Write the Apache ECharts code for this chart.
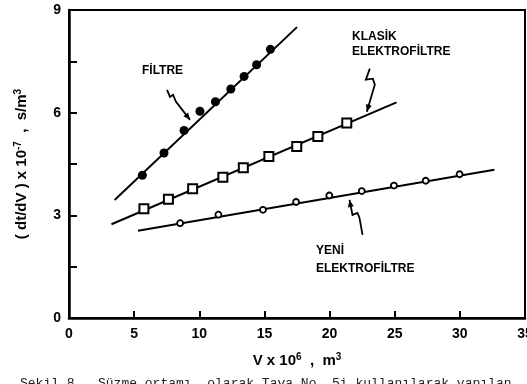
<!DOCTYPE html>
<html>
<head>
<meta charset="utf-8">
<script src="https://cdn.jsdelivr.net/npm/echarts@6/dist/echarts.min.js"></script>
<style>
  html, body { margin: 0; padding: 0; background: #fff; }
  #chart { width: 527px; height: 384px; }
</style>
</head>
<body>
<div id="chart"></div>
<script>
  // V x 10^6 (m3) -> (dt/dV) x 10^-7 (s/m3)
  const filtreV = [5.63, 7.29, 8.83, 10.05, 11.24, 12.42, 13.44, 14.4, 15.46];
  const filtreR = [4.17, 4.82, 5.48, 6.04, 6.32, 6.69, 7.06, 7.40, 7.85];
  const filtreFitV = [3.5, 17.5];
  const filtreFitR = [3.45, 8.5];

  const klasikV = [5.75, 7.63, 9.49, 11.81, 13.38, 15.34, 17.48, 19.1, 21.32];
  const klasikR = [3.19, 3.47, 3.78, 4.11, 4.39, 4.72, 5.01, 5.30, 5.70];
  const klasikFitV = [3.26, 25.14];
  const klasikFitR = [2.74, 6.30];

  const yeniV = [8.53, 11.47, 14.89, 17.43, 19.98, 22.47, 24.94, 27.38, 29.98];
  const yeniR = [2.77, 3.02, 3.16, 3.39, 3.58, 3.71, 3.87, 4.01, 4.20];
  const yeniFitV = [5.29, 32.65];
  const yeniFitR = [2.55, 4.33];

  const xTickLabels = ['0', '5', '10', '15', '20', '25', '30', '35'];
  const yTickLabels = ['0', '3', '6', '9'];

  const pairs = (xs, ys) => xs.map((v, i) => [v, ys[i]]);
  const labelFont = 'Liberation Sans';

  const chart = echarts.init(document.getElementById('chart'));

  const fitLine = (xs, ys) => ({
    type: 'line',
    data: pairs(xs, ys),
    symbol: 'none',
    silent: true,
    lineStyle: {color: '#000', width: 2},
    z: 2
  });

  const option = {
    animation: false,
    backgroundColor: '#fff',
    grid: {
      left: 69, right: 2, top: 10, bottom: 66,
      outerBoundsMode: 'none',
      containLabel: false,
      show: true, borderColor: '#000', borderWidth: 2
    },
    xAxis: {
      type: 'value',
      min: 0, max: 35, interval: 5,
      name: 'V x 10{sup|6}  ,  m{sup|3}',
      nameLocation: 'middle',
      nameGap: 34,
      nameTextStyle: {
        fontFamily: labelFont, fontWeight: 'bold', fontSize: 15, color: '#000',
        rich: {sup: {fontFamily: labelFont, fontWeight: 'bold', fontSize: 10, verticalAlign: 'top', padding: [0, 0, 8, 0]}}
      },
      axisLine: {lineStyle: {color: '#000', width: 2.5}},
      axisTick: {inside: true, length: 7, lineStyle: {color: '#000', width: 2}},
      axisLabel: {
        margin: 9, color: '#000', fontFamily: labelFont, fontWeight: 'bold', fontSize: 14,
        formatter: v => xTickLabels[Math.round(v / 5)]
      },
      splitLine: {show: false}
    },
    yAxis: {
      type: 'value',
      min: 0, max: 9, interval: 1.5,
      name: '( dt/dV ) x 10{sup|-7}  ,  s/m{sup|3}',
      nameLocation: 'middle',
      nameRotate: 90,
      nameGap: 38,
      nameTextStyle: {
        fontFamily: labelFont, fontWeight: 'bold', fontSize: 15, color: '#000',
        rich: {sup: {fontFamily: labelFont, fontWeight: 'bold', fontSize: 10, verticalAlign: 'top', padding: [0, 0, 8, 0]}}
      },
      axisLine: {lineStyle: {color: '#000', width: 2.5}},
      axisTick: {inside: true, length: 8, lineStyle: {color: '#000', width: 2}},
      axisLabel: {
        margin: 8, color: '#000', fontFamily: labelFont, fontWeight: 'bold', fontSize: 14,
        formatter: v => (Math.abs(v % 3) < 1e-6 ? yTickLabels[Math.round(v / 3)] : '')
      },
      splitLine: {show: false}
    },
    series: [
      fitLine(filtreFitV, filtreFitR),
      fitLine(klasikFitV, klasikFitR),
      fitLine(yeniFitV, yeniFitR),
      {
        type: 'scatter', data: pairs(filtreV, filtreR),
        symbol: 'circle', symbolSize: 9,
        itemStyle: {color: '#000', opacity: 1}, z: 3
      },
      {
        type: 'scatter', data: pairs(klasikV, klasikR),
        symbol: 'rect', symbolSize: 9,
        itemStyle: {color: '#fff', borderColor: '#000', borderWidth: 2, opacity: 1}, z: 3
      },
      {
        type: 'scatter', data: pairs(yeniV, yeniR),
        symbol: 'circle', symbolSize: 6,
        itemStyle: {color: '#fff', borderColor: '#000', borderWidth: 1.8, opacity: 1}, z: 3
      }
    ]
  };
  chart.setOption(option);

  // el cizimi oklar: uc noktasi veri koordinatinda, kivrim piksel ofseti
  function arrow(tip, offs) {
    const p = chart.convertToPixel({gridIndex: 0}, tip);
    const pts = offs.map(o => [p[0] + o[0], p[1] + o[1]]);
    const a = pts[pts.length - 2], b = pts[pts.length - 1];
    const ang = Math.atan2(b[1] - a[1], b[0] - a[0]);
    const c = Math.cos(ang), s = Math.sin(ang), L = 7, W = 3;
    const head = [
      b,
      [b[0] - L * c + W * s, b[1] - L * s - W * c],
      [b[0] - L * c - W * s, b[1] - L * s + W * c]
    ];
    return [
      {type: 'polyline', shape: {points: pts}, style: {stroke: '#000', lineWidth: 1.8, fill: null}, z: 10},
      {type: 'polygon', shape: {points: head}, style: {fill: '#000'}, z: 10}
    ];
  }

  const noteStyle = {fill: '#000', font: 'bold 12px "Liberation Sans", sans-serif'};
  const note = (text, x, y) => ({type: 'text', x: x, y: y, style: Object.assign({text: text}, noteStyle), z: 10});

  chart.setOption({
    graphic: [
      note('FİLTRE', 142, 65),
      note('KLASİK', 352, 31),
      note('ELEKTROFİLTRE', 352, 46),
      note('YENİ', 316, 245),
      note('ELEKTROFİLTRE', 316, 263),
      ...arrow([9.29, 5.79], [[-23, -30], [-20, -23], [-17, -25], [-14, -18], [0, 0]]),
      ...arrow([22.86, 6.03], [[3, -43], [-1, -32], [6, -33], [8, -27], [0, 0]]),
      ...arrow([21.53, 3.45], [[13, 35], [10, 18], [8, 13], [3, 15], [0, 0]]),
      {
        type: 'text', x: 20, y: 377, z: 10,
        style: {text: 'Şekil 8.  Süzme ortamı  olarak Tava No. 5i kullanılarak yapılan', fill: '#222', font: '13px "Liberation Mono", monospace'}
      }
    ]
  });
</script>
</body>
</html>
